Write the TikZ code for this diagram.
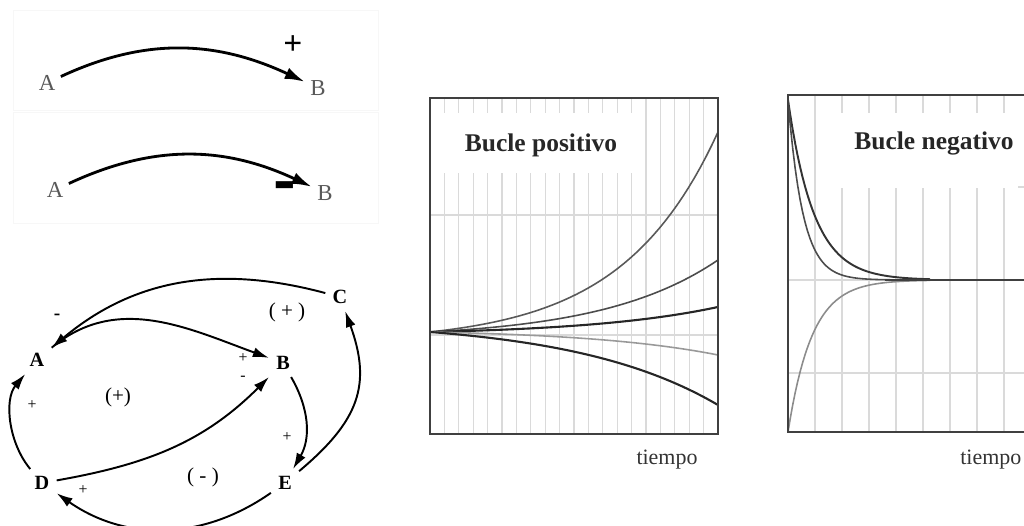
\documentclass[tikz,border=0pt]{standalone}
\usepackage{fontspec}
\setmainfont{Liberation Serif}
\usetikzlibrary{arrows.meta}
\definecolor{gridgray}{RGB}{218,218,218}
\definecolor{curvegray}{RGB}{70,70,70}

\begin{document}
\begin{tikzpicture}[x=0.02cm, y=0.02cm,
    var/.style={font=\fontsize{11.5}{12}\selectfont\bfseries, inner sep=4pt},
    simplevar/.style={font=\fontsize{13}{14}\selectfont, text=black!65, inner sep=3pt},
    link/.style={line width=1.1pt, -{Latex[length=3.2mm,width=2mm]}},
    biglink/.style={line width=1.6pt, -{Latex[length=4mm,width=2.4mm]}},
    sign/.style={font=\fontsize{9}{10}\selectfont, inner sep=0pt},
    loopsign/.style={font=\fontsize{12}{13}\selectfont, inner sep=0pt},
    gridline/.style={gridgray, line width=0.6pt},
    chartframe/.style={draw=black!75, line width=1.1pt},
    curve/.style={curvegray, line width=0.9pt},
    charttitle/.style={font=\fontsize{14.5}{16}\selectfont\bfseries, text=black!85},
    timelabel/.style={font=\fontsize{12.5}{14}\selectfont, text=black!80}]

    \useasboundingbox (0,0) rectangle (1024,526);
    \clip (0,0) rectangle (1024,526);

    % Faint panels
    \draw[black!3] (13,416) rectangle (378,516);
    \draw[black!3] (13,303) rectangle (378,414);

    % Simple links
    \node[simplevar] (a1) at (47,443) {A};
    \node[simplevar] (b1) at (318,438) {B};
    \draw[biglink] (a1) to[out=25,in=155] (b1);
    \node[font=\fontsize{19}{19}\selectfont\bfseries, inner sep=0pt] (plus1) at (293,481) {+};

    \node[simplevar] (a2) at (55,336) {A};
    \node[simplevar] (b2) at (325,333) {B};
    \draw[biglink] (a2) to[out=25,in=155] (b2);
    \node[font=\fontsize{19}{19}\selectfont\bfseries, inner sep=0pt] (minus1) at (285,331) {\scalebox{1}[3]{--}};

    % Loop diagram
    \node[var] (A) at (37,166) {A};
    \node[var] (B) at (283,163) {B};
    \node[var] (C) at (340,229) {C};
    \node[var] (D) at (42,43) {D};
    \node[var] (E) at (285,43) {E};

    \draw[link] (C) to[out=165,in=40] (A);
    \draw[link] (A) to[out=40,in=160] (B);
    \draw[link] (D) to[out=10,in=225] (B);
    \draw[link] (B) to[out=-60,in=60] (E);
    \draw[link] (E) to[out=40,in=-70,looseness=1.2] (C);
    \draw[link] (E) to[out=-145,in=-35] (D);
    \draw[link] (D) to[out=130,in=-130,looseness=0.9] (A);

    \node[sign, font=\fontsize{11}{12}\selectfont\bfseries] (sca) at (57,209) {-};
    \node[sign] (sab) at (243,168) {+};
    \node[sign] (sdb) at (243,148) {-};
    \node[sign] (sbe) at (287,89) {+};
    \node[sign] (sed) at (83,36) {+};
    \node[sign] (sda) at (32,121) {+};

    \node[loopsign] (loopc) at (287,214) {( + )};
    \node[loopsign] (loopa) at (118,129) {(+)};
    \node[loopsign] (loope) at (203,49) {( - )};

    % Positive loop chart
    \foreach \k in {1,...,14} {
        \draw[gridline] ({430+14.4*\k},92) -- ({430+14.4*\k},353);
        \draw[gridline] ({430+14.4*\k},413) -- ({430+14.4*\k},428);
    }
    \foreach \k in {15,...,19}
        \draw[gridline] ({430+14.4*\k},92) -- ({430+14.4*\k},428);
    \draw[gridline] (430,311) -- (718,311);
    \draw[gridline] (430,191) -- (718,191);

    \draw[curve, black!65] plot[domain=0:1, samples=50] ({430+288*\x},{194+200*(exp(3*\x)-1)/(exp(3)-1)});
    \draw[curve, black!70] plot[domain=0:1, samples=50] ({430+288*\x},{194+72*(exp(2.5*\x)-1)/(exp(2.5)-1)});
    \draw[curve, black!85, line width=1.2pt] plot[domain=0:1, samples=50] ({430+288*\x},{194+25*(exp(2.2*\x)-1)/(exp(2.2)-1)});
    \draw[curve, black!40] plot[domain=0:1, samples=50] ({430+288*\x},{194-23*(exp(2.2*\x)-1)/(exp(2.2)-1)});
    \draw[curve, black!85, line width=1.2pt] plot[domain=0:1, samples=50] ({430+288*\x},{194-73*(exp(2*\x)-1)/(exp(2)-1)});

    \draw[chartframe] (430,92) rectangle (718,428);
    \node[charttitle] (postitle) at (541,381) {Bucle positivo};
    \node[timelabel] (postime) at (667,66) {tiempo};

    % Negative loop chart
    \draw[gridline] (815,94) -- (815,431);
    \foreach \xx in {842,869,...,1004} {
        \draw[gridline] (\xx,94) -- (\xx,338);
        \draw[gridline] (\xx,413) -- (\xx,431);
    }
    \draw[gridline] (788,246) -- (1030,246);
    \draw[gridline] (788,153) -- (1030,153);
    \draw[gridline] (1018,339) -- (1030,339);

    \draw[curve, black!80, line width=1.1pt] plot[domain=788:930, samples=60] ({\x},{246+180*exp(-(\x-788)/26)});
    \draw[curve, black!70] plot[domain=788:930, samples=60] ({\x},{246+180*exp(-(\x-788)/15)});
    \draw[curve, black!45] plot[domain=788:930, samples=60] ({\x},{246-152*exp(-(\x-788)/24)});
    \draw[curve, black!75, line width=1.3pt] (885,246) -- (1030,246);

    \draw[chartframe] (1030,94) -- (788,94) -- (788,431) -- (1030,431);
    \node[charttitle] (negtitle) at (934,383) {Bucle negativo};
    \node[timelabel, anchor=west, inner sep=0pt] (negtime) at (960,66) {tiempo};
\end{tikzpicture}
\end{document}
